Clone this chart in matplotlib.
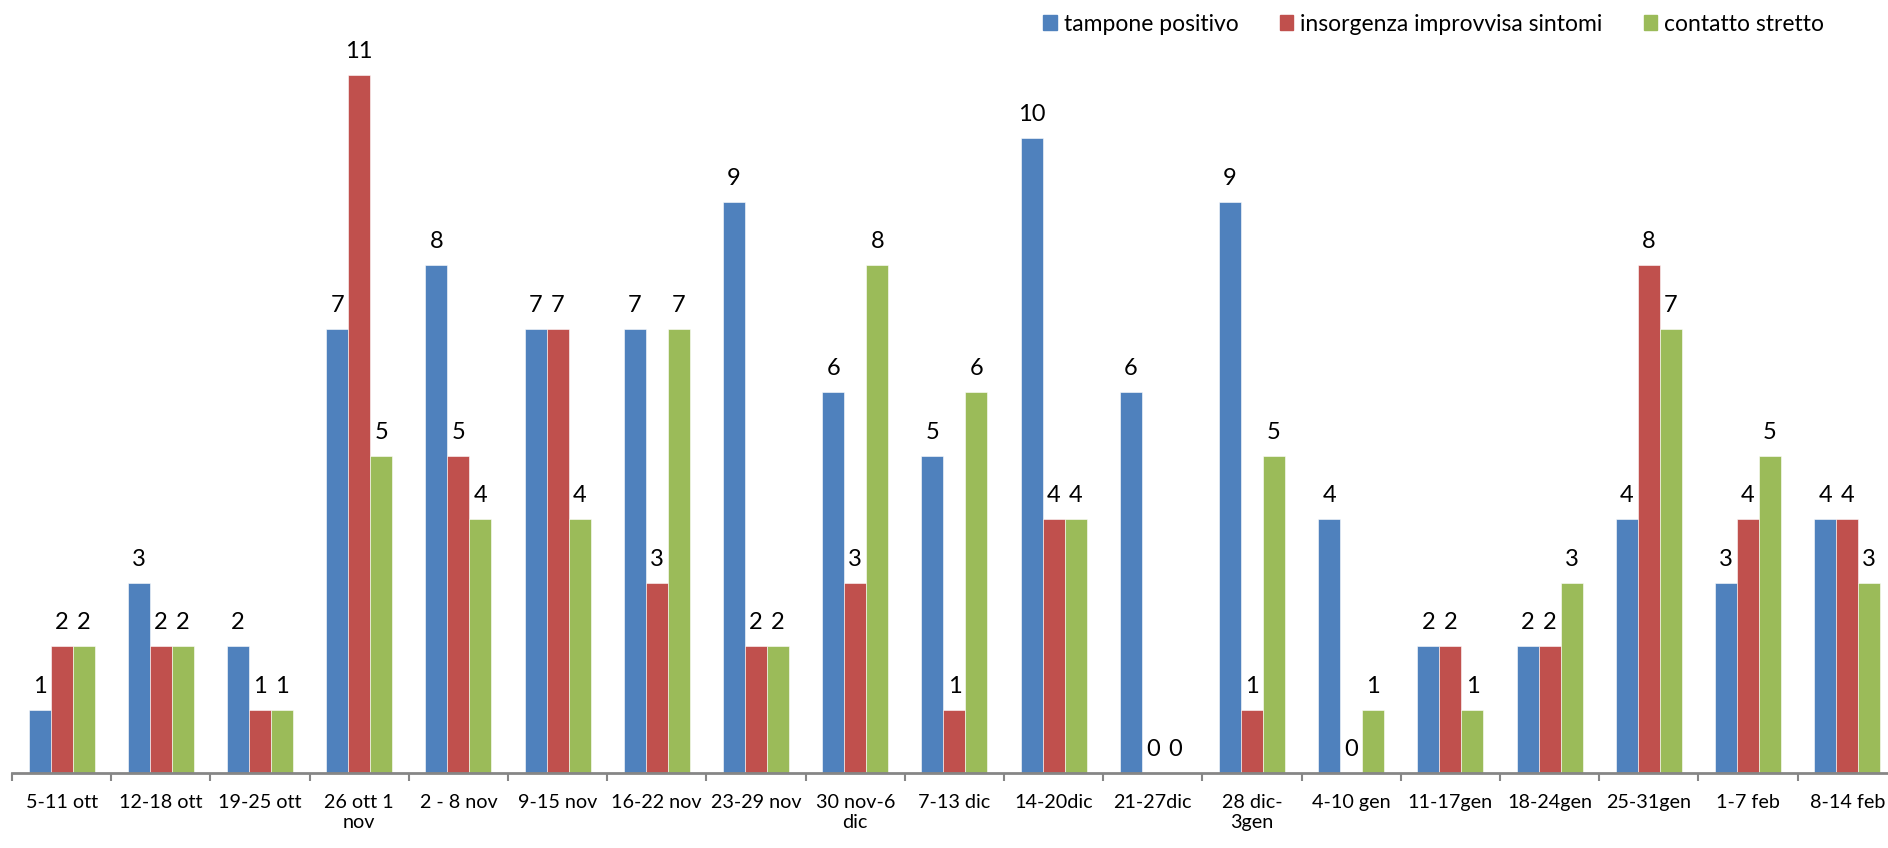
import numpy as np
import matplotlib
matplotlib.use("Agg")
from matplotlib import pyplot as plt
from matplotlib.patches import Patch

plt.rcParams['font.family'] = ['Lato', 'DejaVu Sans']

categories = ['5-11 ott', '12-18 ott', '19-25 ott', '26 ott 1\nnov', '2 - 8 nov',
              '9-15 nov', '16-22 nov', '23-29 nov', '30 nov-6\ndic', '7-13 dic',
              '14-20dic', '21-27dic', '28 dic-\n3gen', '4-10 gen', '11-17gen',
              '18-24gen', '25-31gen', '1-7 feb', '8-14 feb']
tampone = [1, 3, 2, 7, 8, 7, 7, 9, 6, 5, 10, 6, 9, 4, 2, 2, 4, 3, 4]
insorgenza = [2, 2, 1, 11, 5, 7, 3, 2, 3, 1, 4, 0, 1, 0, 2, 2, 8, 4, 4]
contatto = [2, 2, 1, 5, 4, 4, 7, 2, 8, 6, 4, 0, 5, 1, 1, 3, 7, 5, 3]
series_names = ['tampone positivo', 'insorgenza improvvisa sintomi', 'contatto stretto']
colors = ['#4F81BD', '#C0504D', '#9BBB59']

fig = plt.figure(figsize=(18.88, 8.48), dpi=100)
W, H = 1888, 848
ax = fig.add_axes([12 / W, 75 / H, 19 * 99.2 / W, 762 / H])

x = np.arange(len(categories))
bw = 0.222
for i, (vals, c) in enumerate(zip([tampone, insorgenza, contatto], colors)):
    pos = x + (i - 1) * bw
    ax.bar(pos, vals, width=bw, color=c, edgecolor='white', linewidth=0.4)
    for p, v in zip(pos, vals):
        ax.text(p, v + 0.2, str(v), ha='center', va='bottom', fontsize=17)

ax.set_xlim(-0.5, len(categories) - 0.5)
ax.set_ylim(0, 12)
ax.set_yticks([])
for s in ['top', 'right', 'left']:
    ax.spines[s].set_visible(False)
ax.spines['bottom'].set_color('#868686')
ax.spines['bottom'].set_linewidth(2)

ax.set_xticks(x)
ax.set_xticklabels(categories, fontsize=14.2, linespacing=1.25)
ax.tick_params(axis='x', which='major', length=0, pad=15)
ax.set_xticks(np.arange(len(categories) + 1) - 0.5, minor=True)
ax.tick_params(axis='x', which='minor', length=6, width=1.5, color='#868686', direction='out')

handles = [Patch(color=c) for c in colors]
fig.legend(handles, series_names, loc='upper right', bbox_to_anchor=(1838 / W, 1.0),
           ncol=3, frameon=False, fontsize=16.5, handlelength=0.6, handleheight=0.6,
           handletextpad=0.3, columnspacing=1.8, borderaxespad=0.2)

fig.savefig('out.png', dpi=100)
